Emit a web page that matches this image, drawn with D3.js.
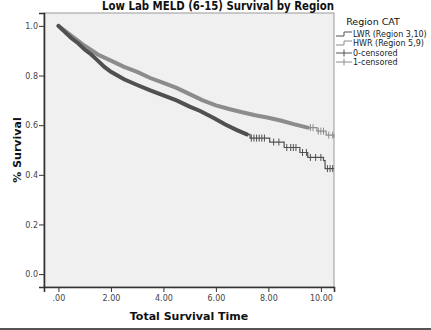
<!DOCTYPE html>
<html>
<head>
<meta charset="utf-8">
<script src="https://cdn.jsdelivr.net/npm/d3@7"></script>
<style>
  body { margin: 0; background: #fff; }
  text { font-family: "DejaVu Sans", Verdana, sans-serif; }
</style>
</head>
<body>
<script>
// survival curves (time in years, survival fraction)
var lwrTime = [0, 0.25, 0.5, 0.75, 1.0, 1.25, 1.5, 1.75, 2.0, 2.5, 3.0, 3.5, 4.0, 4.5, 5.0, 5.4, 5.9, 6.36, 6.8, 7.18, 7.3, 8.05, 8.6, 9.2, 9.5, 10.1, 10.16, 10.5];
var lwrSurv = [1.0, 0.975, 0.95, 0.93, 0.905, 0.885, 0.86, 0.835, 0.815, 0.785, 0.762, 0.74, 0.72, 0.70, 0.675, 0.657, 0.63, 0.603, 0.58, 0.563, 0.548, 0.532, 0.51, 0.49, 0.47, 0.457, 0.425, 0.425];
var hwrTime = [0, 0.25, 0.5, 0.75, 1.0, 1.5, 2.0, 2.5, 3.0, 3.5, 4.0, 4.5, 5.0, 5.5, 6.0, 6.5, 7.0, 7.5, 8.0, 8.5, 9.0, 9.5, 9.85, 10.2, 10.5];
var hwrSurv = [1.0, 0.98, 0.96, 0.94, 0.92, 0.885, 0.86, 0.835, 0.815, 0.79, 0.77, 0.75, 0.725, 0.70, 0.68, 0.665, 0.652, 0.64, 0.63, 0.618, 0.603, 0.59, 0.576, 0.56, 0.55];

// where censoring is so dense that the marks merge into a band
var lwrBandEnd = 7.2;
var hwrBandEnd = 9.5;

// single censor marks in the sparse tail
var lwrCensor = [7.35, 7.45, 7.55, 7.65, 7.75, 7.85, 8.2, 8.4, 8.7, 8.85, 8.95, 9.05, 9.3, 9.45, 9.6, 9.8, 10.0, 10.25, 10.35, 10.45];
var hwrCensor = [9.6, 9.7, 9.9, 10.0, 10.1, 10.3, 10.45];

var xTicks = [0, 2, 4, 6, 8, 10];
var yTicks = [0, 0.2, 0.4, 0.6, 0.8, 1.0];
var legendLabels = ["LWR (Region 3,10)", "HWR (Region 5,9)", "0-censored", "1-censored"];

var width = 431;
var height = 330;
var plotLeft = 44, plotRight = 334, plotTop = 13, plotBottom = 287;
var darkColor = "#505050";
var lightColor = "#8c8c8c";

var svg = d3.select("body")
            .append("svg")
            .attr("width", width)
            .attr("height", height);

var x = d3.scaleLinear().domain([-0.55, 10.5]).range([plotLeft, plotRight]);
var y = d3.scaleLinear().domain([-0.052, 1.052]).range([plotBottom, plotTop]);

// plot background
svg.append("rect")
   .attr("x", plotLeft)
   .attr("y", plotTop)
   .attr("width", plotRight - plotLeft)
   .attr("height", plotBottom - plotTop)
   .attr("fill", "#f0f0f0")
   .attr("stroke", "#9a9a9a")
   .attr("stroke-width", 1);

// step line for the sparse tail, smooth band for the dense part
var stepLine = d3.line()
                 .x(function(d) { return x(d[0]); })
                 .y(function(d) { return y(d[1]); })
                 .curve(d3.curveStepAfter);

var bandLine = d3.line()
                 .x(function(d) { return x(d[0]); })
                 .y(function(d) { return y(d[1]); });

function drawSeries(times, surv, bandEnd, censor, color) {
  var pts = times.map(function(t, i) { return [t, surv[i]]; });
  var band = pts.filter(function(d) { return d[0] <= bandEnd; });
  var tail = pts.filter(function(d) { return d[0] >= band[band.length - 1][0]; });

  svg.append("path")
     .attr("d", stepLine(tail))
     .attr("fill", "none")
     .attr("stroke", color)
     .attr("stroke-width", 1.2);

  svg.append("path")
     .attr("d", bandLine(band))
     .attr("fill", "none")
     .attr("stroke", color)
     .attr("stroke-width", 4)
     .attr("stroke-linecap", "round");

  // survival value at a time, from the step data
  function survAt(t) {
    var s = surv[0];
    for (var i = 0; i < times.length; i++) {
      if (times[i] <= t) s = surv[i];
    }
    return s;
  }

  svg.selectAll(null)
     .data(censor)
     .enter()
     .append("line")
     .attr("x1", function(d) { return x(d); })
     .attr("x2", function(d) { return x(d); })
     .attr("y1", function(d) { return y(survAt(d)) - 3.5; })
     .attr("y2", function(d) { return y(survAt(d)) + 3.5; })
     .attr("stroke", color)
     .attr("stroke-width", 1);
}

drawSeries(hwrTime, hwrSurv, hwrBandEnd, hwrCensor, lightColor);
drawSeries(lwrTime, lwrSurv, lwrBandEnd, lwrCensor, darkColor);

// axes
var yAxis = d3.axisLeft(y)
              .tickValues(yTicks)
              .tickSize(5)
              .tickFormat(d3.format(".1f"));

var xAxis = d3.axisBottom(x)
              .tickValues(xTicks)
              .tickSize(5)
              .tickFormat(function(d) { return d === 0 ? ".00" : d.toFixed(2); });

var gy = svg.append("g")
            .attr("transform", "translate(" + plotLeft + ",0)")
            .call(yAxis);

var gx = svg.append("g")
            .attr("transform", "translate(0," + plotBottom + ")")
            .call(xAxis);

[gx, gy].forEach(function(g) {
  g.select(".domain").attr("stroke", "#333").attr("stroke-width", 1.6);
  g.selectAll(".tick line").attr("stroke", "#333");
  g.selectAll(".tick text")
   .attr("font-family", "DejaVu Sans, sans-serif")
   .attr("font-size", "8px")
   .attr("fill", "#444");
});
gy.selectAll(".tick text").attr("x", -6);

// title and axis titles
svg.append("text")
   .attr("x", 218)
   .attr("y", 10)
   .attr("text-anchor", "middle")
   .attr("font-size", "12px")
   .attr("font-weight", "bold")
   .attr("fill", "#111")
   .attr("textLength", 232)
   .attr("lengthAdjust", "spacingAndGlyphs")
   .text("Low Lab MELD (6-15) Survival by Region");

svg.append("text")
   .attr("x", 189)
   .attr("y", 320)
   .attr("text-anchor", "middle")
   .attr("font-size", "11px")
   .attr("font-weight", "bold")
   .attr("fill", "#111")
   .text("Total Survival Time");

svg.append("text")
   .attr("transform", "translate(21,150)rotate(-90)")
   .attr("text-anchor", "middle")
   .attr("font-size", "11px")
   .attr("font-weight", "bold")
   .attr("fill", "#111")
   .text("% Survival");

// bottom rule
svg.append("line")
   .attr("x1", 0)
   .attr("x2", width)
   .attr("y1", 329)
   .attr("y2", 329)
   .attr("stroke", "#555")
   .attr("stroke-width", 2);

// legend
var legend = svg.append("g").attr("transform", "translate(336,0)");

legend.append("text")
      .attr("x", 37)
      .attr("y", 25)
      .attr("text-anchor", "middle")
      .attr("font-size", "9.5px")
      .attr("fill", "#111")
      .text("Region CAT");

var legendColors = [darkColor, lightColor, darkColor, lightColor];
var legendY = [34, 43, 53, 62];

legendLabels.forEach(function(label, i) {
  var yy = legendY[i];
  if (i < 2) {
    legend.append("path")
          .attr("d", "M0," + (yy + 2) + "H8V" + (yy - 2) + "H16")
          .attr("fill", "none")
          .attr("stroke", legendColors[i])
          .attr("stroke-width", 1);
  } else {
    legend.append("path")
          .attr("d", "M0," + yy + "H16M8," + (yy - 3.5) + "V" + (yy + 3.5))
          .attr("fill", "none")
          .attr("stroke", legendColors[i])
          .attr("stroke-width", 1);
  }
  legend.append("text")
        .attr("x", 17)
        .attr("y", yy + 3)
        .attr("font-size", "8px")
        .attr("fill", "#222")
        .text(label);
});
</script>
</body>
</html>
